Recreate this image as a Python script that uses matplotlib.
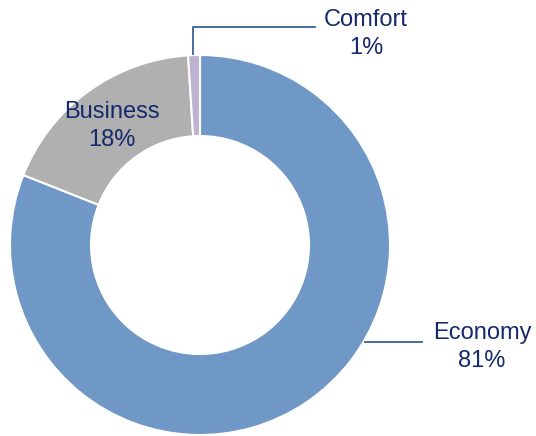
import matplotlib.pyplot as plt

classes = ['Economy', 'Business', 'Comfort']
shares = [81, 18, 1]
colors = ['#6F98C6', '#B0B0B0', '#BFB1D1']

text_color = '#15296B'
line_color = '#3A6194'

fig = plt.figure(figsize=(5.36, 4.36), dpi=100)
ax = fig.add_axes([0, 0, 1, 1])

# центр кольца в пикселях (200, 245), радиус 190
ax.pie(shares, colors=colors, radius=190, startangle=90, counterclock=False,
       wedgeprops=dict(width=81, edgecolor='white', linewidth=1.5))
ax.set_xlim(-200, 336)
ax.set_ylim(-191, 245)
ax.set_aspect('equal')
ax.axis('off')


def px(x, y):
    return x - 200, 245 - y


# подписи (в пикселях картинки)
label_pos = {'Economy': (482, 347), 'Business': (112, 126), 'Comfort': (366, 34)}
for name, val in zip(classes, shares):
    x, y = px(*label_pos[name])
    ax.text(x, y, f'{name}\n{val}%', ha='center', va='center', fontsize=17,
            family='Liberation Sans', color=text_color, linespacing=1.38)

# выноски
ax.plot(*zip(px(193, 54), px(193, 27), px(315, 27)), color=line_color, lw=1.3)
ax.plot(*zip(px(365, 342), px(422, 342)), color=line_color, lw=1.3)

fig.savefig('out.png', dpi=100)
